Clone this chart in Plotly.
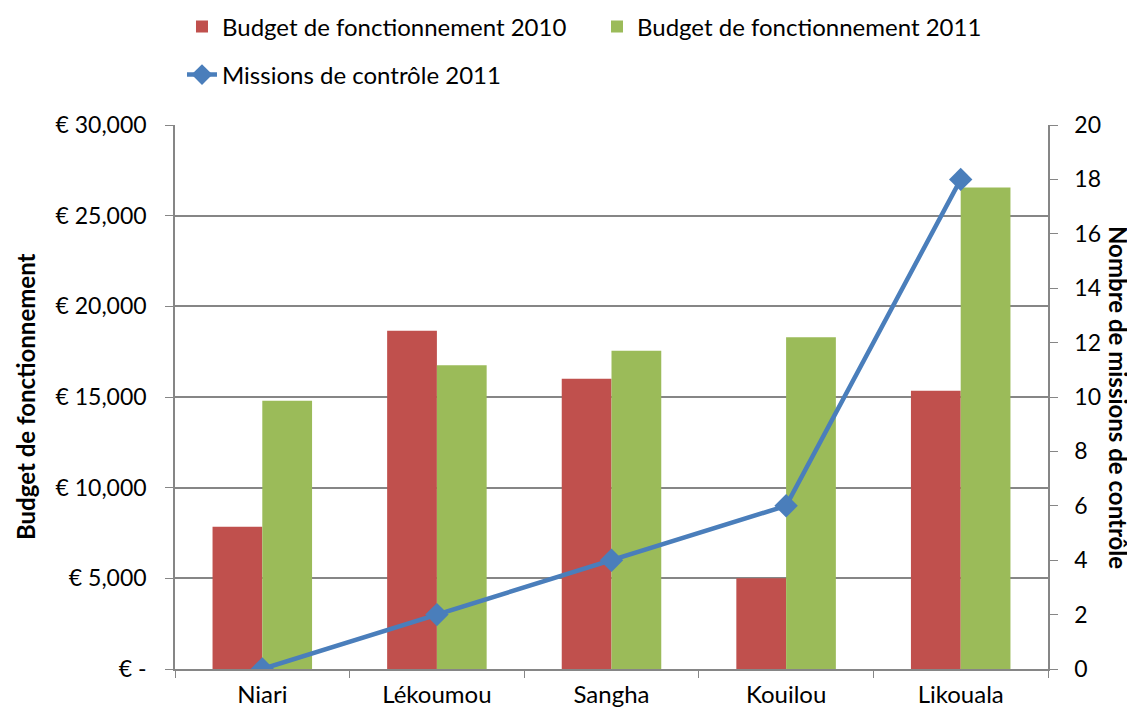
import plotly.graph_objects as go

categories = ["Niari", "Lékoumou", "Sangha", "Kouilou", "Likouala"]
budget_2010 = [7850, 18650, 16000, 5000, 15350]
budget_2011 = [14800, 16750, 17550, 18300, 26550]
missions_2011 = [0, 2, 4, 6, 18]

y1_tickvals = [0, 5000, 10000, 15000, 20000, 25000, 30000]
y1_ticktext = ["€ -", "€ 5,000", "€ 10,000", "€ 15,000", "€ 20,000", "€ 25,000", "€ 30,000"]
y2_tickvals = [0, 2, 4, 6, 8, 10, 12, 14, 16, 18, 20]

FONT = "Lato"
FS = 24
TFS = 23
GRID = "#868686"

fig = go.Figure()
fig.add_trace(go.Bar(name="Budget de fonctionnement 2010", x=categories, y=budget_2010,
                     marker=dict(color="#C0504D", line=dict(width=0)), legend="legend"))
fig.add_trace(go.Bar(name="Budget de fonctionnement 2011", x=categories, y=budget_2011,
                     marker=dict(color="#9BBB59", line=dict(width=0)), legend="legend"))
fig.add_trace(go.Scatter(name="Missions de contrôle 2011", x=categories, y=missions_2011,
                         yaxis="y2", mode="lines+markers",
                         line=dict(color="#4A7EBB", width=4.5),
                         marker=dict(symbol="diamond", size=18, color="#4A7EBB"),
                         legend="legend2"))

fig.update_layout(
    width=1135, height=713,
    paper_bgcolor="white", plot_bgcolor="white",
    font=dict(family=FONT, size=FS, color="black"),
    margin=dict(l=167, r=95, t=117, b=52, autoexpand=False),
    barmode="group", bargap=0.43, bargroupgap=0,
    xaxis=dict(showline=True, linecolor=GRID, linewidth=1.5, ticks="outside",
               tickson="boundaries", ticklen=7, tickcolor=GRID, showgrid=False,
               tickfont=dict(size=FS), ticklabelstandoff=3, automargin=False),
    yaxis=dict(range=[0, 30000], tickvals=y1_tickvals, ticktext=y1_ticktext,
               showgrid=True, gridcolor=GRID, gridwidth=1.5,
               showline=True, linecolor=GRID, linewidth=1.5,
               ticks="outside", ticklen=8, tickcolor=GRID, zeroline=False,
               tickfont=dict(size=TFS), ticklabelstandoff=14, automargin=False),
    yaxis2=dict(range=[0, 20], tickvals=y2_tickvals, overlaying="y", side="right",
                showgrid=False, showline=True, linecolor=GRID, linewidth=1.5,
                ticks="outside", ticklen=8, tickcolor=GRID, zeroline=False,
                tickfont=dict(size=TFS), ticklabelstandoff=12, automargin=False),
    legend=dict(orientation="h", xref="container", yref="container",
                x=0.1533, y=0.9734, xanchor="left", yanchor="middle",
                font=dict(size=FS), itemwidth=30, entrywidth=370, tracegroupgap=0,
                bgcolor="rgba(0,0,0,0)"),
    legend2=dict(orientation="h", xref="container", yref="container",
                 x=0.1533, y=0.906, xanchor="left", yanchor="middle",
                 font=dict(size=FS), itemwidth=30,
                 bgcolor="rgba(0,0,0,0)"),
    annotations=[
        dict(text="<b>Budget de fonctionnement</b>", textangle=-90,
             xref="paper", yref="paper", x=0.0, xshift=-150, y=0.5,
             xanchor="center", yanchor="middle",
             showarrow=False, font=dict(size=FS)),
        dict(text="<b>Nombre de missions de contrôle</b>", textangle=90,
             xref="paper", yref="paper", x=1.0, xshift=71, y=0.5,
             xanchor="center", yanchor="middle",
             showarrow=False, font=dict(size=FS)),
    ],
)

fig.write_html("out.html")
